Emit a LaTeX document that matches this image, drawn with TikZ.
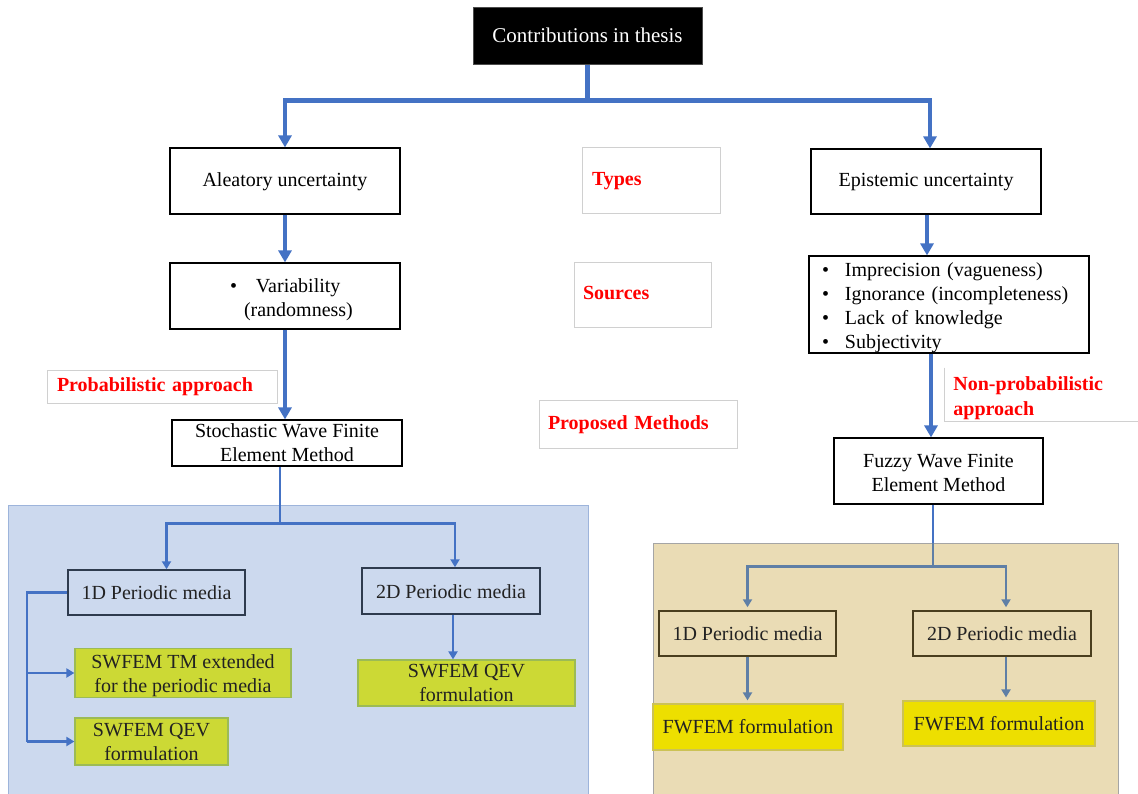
\documentclass[tikz,border=0pt]{standalone}
\usepackage{fontspec}
\setmainfont{Liberation Serif}
\usetikzlibrary{arrows.meta}
\definecolor{conn}{HTML}{4472C4}
\definecolor{rconn}{HTML}{5F7FA6}
\definecolor{lblgray}{HTML}{D0D0D0}
\definecolor{lpfill}{HTML}{CCD9EE}
\definecolor{lpdraw}{HTML}{9DB4DB}
\definecolor{rpfill}{HTML}{EADCB5}
\definecolor{rpdraw}{HTML}{A5A5A5}
\definecolor{yfill}{HTML}{CCD935}
\definecolor{ydraw}{HTML}{9CBB55}
\definecolor{ffill}{HTML}{EDDF00}
\definecolor{fdraw}{HTML}{CCC255}
\definecolor{pdraw}{HTML}{2E3B4E}
\definecolor{rdraw}{HTML}{4A3E1E}
\definecolor{dtext}{HTML}{222222}
% struts that set a line a little lower in its box
\newcommand\sdown{\rule[-5pt]{0pt}{20pt}}
\newcommand\mdown[1]{\rule{0pt}{#1}}
\begin{document}
\begin{tikzpicture}[x=1pt,y=-1pt,
  font=\fontsize{20}{24}\selectfont,
  topbox/.style={draw=black!70, line width=1pt, fill=black, text=white,
    font=\fontsize{21}{25}\selectfont, inner sep=0pt, align=center},
  box/.style={draw=black, line width=1.2pt, fill=white, inner sep=0pt, align=center},
  lbl/.style={draw=lblgray, line width=0.8pt, fill=white, text=red,
    font=\fontsize{20}{25}\selectfont\bfseries, align=left, inner ysep=0pt},
  panel/.style={line width=1.3pt, anchor=north west, inner sep=0pt},
  pbox/.style={draw=pdraw, line width=1.5pt, text=dtext, inner sep=0pt, align=center},
  rbox/.style={draw=rdraw, line width=1.5pt, text=dtext, inner sep=0pt, align=center},
  ybox/.style={draw=ydraw, line width=1.2pt, fill=yfill, text=dtext, inner sep=0pt, align=center},
  fbox/.style={draw=fdraw, line width=1.2pt, fill=ffill, text=dtext, inner sep=0pt, align=center},
  bigline/.style={draw=conn, line width=4.5pt},
  big/.style={bigline, -{Triangle[width=13pt,length=12pt]}},
  thinl/.style={draw=conn, line width=2.4pt},
  thina/.style={thinl, -{Triangle[width=9pt,length=8pt]}},
  rline/.style={draw=rconn, line width=2.4pt},
  ra/.style={rline, -{Triangle[width=9pt,length=8pt]}, shorten >=3pt},
]
\useasboundingbox (0,0) rectangle (1138,793);
\clip (0,0) rectangle (1138,793);
\fill[white] (0,0) rectangle (1138,793);

% background panels for the two method families
\node[panel, draw=lpdraw, fill=lpfill, minimum width=580pt, minimum height=300pt] (lpanel) at (8,505) {};
\node[panel, draw=rpdraw, fill=rpfill, minimum width=465pt, minimum height=262pt] (rpanel) at (653,543) {};

% main hierarchy
\node[topbox, minimum width=229pt, minimum height=57pt] (top) at (587.5,35.5) {Contributions in thesis};
\node[box, minimum width=230pt, minimum height=66pt] (alea) at (285,181) {\sdown Aleatory uncertainty};
\node[box, minimum width=230pt, minimum height=65pt] (epi) at (926,181.5) {\sdown Epistemic uncertainty};
\node[box, text width=230pt, inner xsep=0pt, align=left, minimum height=66pt] (var) at (285,296)
  {\mdown{21pt}\hspace*{60pt}\makebox[26pt][l]{\textbullet}Variability\\\hspace*{74pt}(randomness)};
\node[box, text width=254pt, inner xsep=13pt, inner ysep=0pt, align=left, minimum height=97pt] (esrc) at (949,304.5)
  {\mdown{20pt}\makebox[23pt][l]{\textbullet}Imprecision (vagueness)\\
   \makebox[23pt][l]{\textbullet}Ignorance (incompleteness)\\
   \makebox[23pt][l]{\textbullet}Lack of knowledge\\
   \makebox[23pt][l]{\textbullet}Subjectivity};
\node[box, minimum width=230pt, minimum height=46pt] (swf) at (287,443) {Stochastic Wave Finite\\Element Method};
\node[box, minimum width=209pt, minimum height=66pt] (fuz) at (938.5,471) {\mdown{17pt}Fuzzy Wave Finite\\Element Method};

% row labels
\node[lbl, text width=118pt, inner xsep=10pt, minimum height=66pt] (types) at (651,180) {\sdown Types};
\node[lbl, text width=119pt, inner xsep=9pt, minimum height=65pt] (sources) at (642.5,294.5) {\sdown Sources};
\node[lbl, text width=180pt, inner xsep=9pt, minimum height=48pt] (prop) at (638,424) {\sdown Proposed Methods};
\node[lbl, text width=210pt, inner xsep=10pt, minimum height=33pt] (prob) at (162,386.5) {\sdown Probabilistic approach};
\node[lbl, draw=none, fill=none, anchor=west, text width=190pt, inner xsep=9pt, minimum height=53pt] (nonp) at (944,394.5)
  {\mdown{22pt}Non-probabilistic\\approach};
\draw[lblgray, line width=0.8pt] (nonp.north west) |- (nonp.south east);

% stochastic branch
\node[pbox, minimum width=177pt, minimum height=45pt] (l1d) at (156.5,592.5) {1D Periodic media};
\node[pbox, minimum width=178pt, minimum height=46pt] (l2d) at (451,591) {\mdown{16pt}2D Periodic media};
\node[ybox, minimum width=216pt, minimum height=46pt] (lt1) at (183,673) {\mdown{20pt}SWFEM TM extended\\for the periodic media};
\node[ybox, minimum width=153pt, minimum height=47pt] (lt2) at (151.5,741.5) {SWFEM QEV\\formulation};
\node[ybox, minimum width=217pt, minimum height=46pt] (lt3) at (466.5,683) {SWFEM QEV\\formulation};

% fuzzy branch
\node[rbox, minimum width=177pt, minimum height=45pt] (r1d) at (747.5,633.5) {1D Periodic media};
\node[rbox, minimum width=178pt, minimum height=45pt] (r2d) at (1002,633.5) {2D Periodic media};
\node[fbox, minimum width=190pt, minimum height=46pt] (rf1) at (748,727) {FWFEM formulation};
\node[fbox, minimum width=192pt, minimum height=45pt] (rf2) at (999,723.5) {FWFEM formulation};

% thick connectors
\path (top.south) ++(0,36) coordinate (tj);
\draw[big] (top.south) -- (tj) -| (alea.north);
\draw[big] (tj) -| ([xshift=4pt]epi.north);
\draw[big] (alea.south) -- (var.north);
\draw[big] (var.south) -- (var.south |- swf.north);
\draw[big] ([xshift=1pt]epi.south) -- ([xshift=1pt]epi.south |- esrc.north);
\draw[big] ([xshift=-18pt]esrc.south) -- ([xshift=-18pt]esrc.south |- fuz.north);

% stochastic connectors
\path ([xshift=-7pt]swf.south) ++(0,57) coordinate (lj);
\draw[thinl] ([xshift=-7pt]swf.south) -- (lj);
\draw[thina] (lj) -| ([xshift=10pt]l1d.north);
\draw[thina] (lj) -| ([xshift=4pt]l2d.north);
\draw[thinl] (l1d.west) -- ++(-40,0) coordinate (lk) -- (lk |- lt2.west);
\draw[thina] (lk |- lt1.west) -- (lt1.west);
\draw[thina] (lk |- lt2.west) -- (lt2.west);
\draw[thina] ([xshift=2pt]l2d.south) -- ([xshift=2pt]l2d.south |- lt3.north);

% fuzzy connectors
\path ([xshift=-5.5pt]fuz.south) ++(0,62) coordinate (rj);
\draw[thinl] ([xshift=-5.5pt]fuz.south) -- ([xshift=-5.5pt]fuz.south |- rpanel.north);
\draw[rline] ([xshift=-5.5pt]fuz.south |- rpanel.north) -- (rj);
\draw[ra] (rj) -| (r1d.north);
\draw[ra] (rj) -| ([xshift=4pt]r2d.north);
\draw[ra] (r1d.south) -- (r1d.south |- rf1.north);
\draw[ra] ([xshift=4pt]r2d.south) -- ([xshift=4pt]r2d.south |- rf2.north);
\end{tikzpicture}
\end{document}
